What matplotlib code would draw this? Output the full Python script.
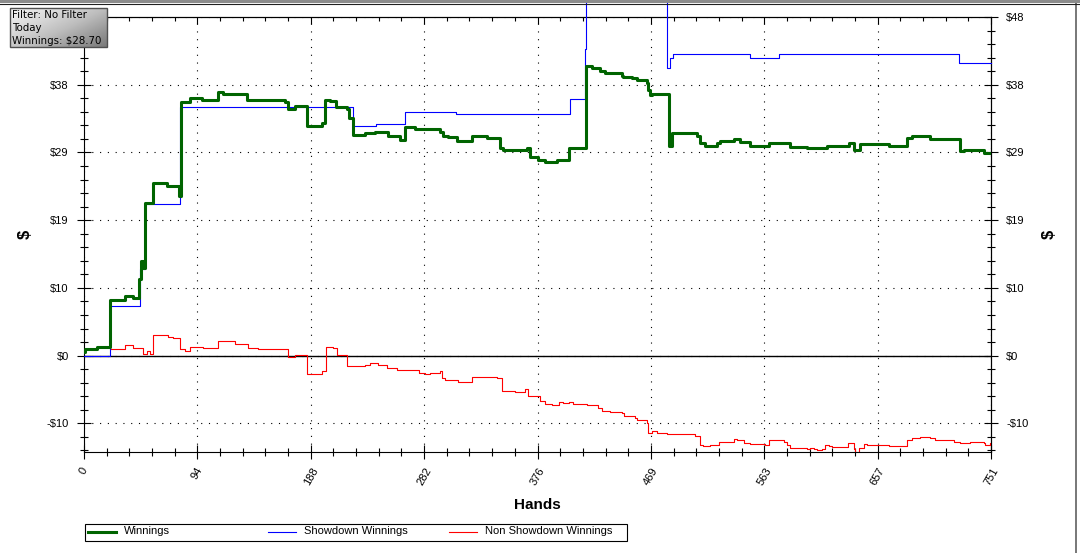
import numpy as np
import matplotlib
matplotlib.use('Agg')
import matplotlib.pyplot as plt
from matplotlib.patches import Rectangle
from matplotlib.lines import Line2D
from matplotlib.ticker import MultipleLocator

plt.rcParams['font.family'] = ['Liberation Sans', 'DejaVu Sans']

# ---------------- data (step series: value holds from hand until next hand) ----------------
win_hands = [0, 1, 10.5, 21.5, 34, 40.9, 45.8, 47.2, 49.1, 50.5, 57.4, 68.5, 79, 80.3, 87.8,
             97.5, 111.3, 115.4, 134.7, 166.5, 169.2, 174.8, 184.4, 196.9, 199.6, 203.8,
             208.7, 217.6, 219.8, 223.1, 232.8, 241.1, 252.1, 261.8, 265.9, 274.2, 295,
             297.6, 301.8, 308.7, 321.1, 333.5, 344.6, 347.3, 358.4, 366.7, 369.4, 376.3,
             381.8, 391.5, 401.2, 415.8, 420.5, 427.4, 431.5, 445.3, 446.7, 453.6, 457.8,
             466.1, 467.4, 468.8, 470.2, 484, 486.8, 507.5, 510.2, 514.4, 524, 526.8,
             537.8, 543.4, 551.6, 566.8, 576.5, 584.8, 598.6, 615.1, 633.1, 637.2, 642.7,
             666.2, 681.3, 685.5, 700.7, 725.5, 728.3, 744.9, 751]
win_vals = [0.5, 0.95, 1.2, 7.9, 8.5, 8.2, 10.8, 13.4, 12.4, 21.7, 24.4, 24.0, 22.6, 36.0,
            36.45, 36.3, 37.3, 37.1, 36.2, 36.0, 35.0, 35.4, 32.5, 33.0, 36.3, 36.1, 35.3,
            34.9, 33.7, 31.3, 31.6, 31.7, 31.2, 30.6, 32.4, 32.1, 31.7, 31.1, 31.0, 30.4,
            31.2, 30.9, 29.5, 29.2, 29.1, 29.4, 28.1, 27.8, 27.4, 27.7, 29.5, 41.0, 40.8,
            40.4, 40.1, 39.7, 39.5, 39.3, 39.0, 38.7, 37.7, 37.0, 37.1, 29.7, 31.6, 31.2,
            30.1, 29.75, 30.1, 30.45, 30.75, 30.35, 29.7, 30.1, 30.2, 29.6, 29.5, 29.7,
            30.2, 29.2, 30.0, 29.7, 30.9, 31.1, 30.7, 29.0, 29.2, 28.7, 28.7]

sd_hands = [0, 21.5, 46.4, 50.5, 79.5, 222.6, 241.9, 265.4, 308.2, 402, 414.5, 415.5,
            483, 485.4, 487.6, 551.6, 575.1, 724.2, 751]
sd_vals = [0.0, 7.1, 12.3, 21.5, 35.3, 32.6, 32.8, 34.6, 34.3, 36.4, 43.5, 55.0,
           40.8, 42.2, 42.7, 42.2, 42.7, 41.5, 41.5]

nsd_hands = [0, 1, 10.5, 21.5, 25, 28.4, 34, 40.9, 49.1, 51.9, 54.7, 57.4, 69.9, 74, 79.5,
             83.7, 87.8, 90.6, 98.9, 111.3, 125.1, 136.1, 144.4, 169.2, 174.8, 184.4,
             196.9, 200.2, 206.5, 209.3, 217.6, 219, 232.8, 236.9, 243.8, 250.7, 259, 270,
             277, 282.4, 286.6, 294.9, 296.3, 299, 310, 321.1, 341.8, 346, 357, 365.3, 368,
             377.7, 381.8, 387.4, 392.9, 397, 401.2, 405.3, 416.3, 426, 428.8, 435.7, 441.2,
             445.4, 446.8, 456.4, 457.8, 466.1, 467.4, 470.2, 474.3, 479.9, 482.6, 501.9,
             506.1, 510.2, 512.4, 518.5, 525.4, 537.8, 540.6, 546.1, 551.6, 564, 566.8,
             579.2, 582, 584.8, 598.6, 601.3, 604.1, 607, 611, 613.7, 616.5, 619.3, 633,
             637.2, 638.6, 641.3, 645.5, 648.2, 666.2, 681.3, 685.5, 692.4, 700.7, 704.8,
             720, 725.5, 733.8, 744.9, 746.2, 750.4, 751]
nsd_vals = [0.5, 0.95, 1.2, 1.0, 0.9, 1.0, 1.52, 1.09, 0.28, 0.61, 0.28, 2.98, 2.6, 2.5,
            1.0, 0.71, 1.2, 1.28, 1.09, 2.03, 1.7, 1.09, 1.0, -0.24, 0.14, -2.6, -2.2, 1.22,
            1.09, 0.14, -1.5, -1.42, -1.28, -1.09, -1.3, -1.69, -2.02, -2.1, -2.4, -2.6,
            -2.4, -2.2, -3.1, -3.4, -3.7, -3.0, -3.2, -5.06, -5.1, -4.73, -5.7, -6.38, -6.8,
            -6.95, -6.56, -6.7, -6.56, -6.85, -7.05, -7.4, -7.9, -8.0, -7.95, -8.2, -8.5,
            -8.8, -9.08, -9.5, -10.9, -10.7, -10.97, -10.9, -11.06, -11.1, -11.44, -12.6,
            -12.86, -12.7, -12.25, -11.8, -12.0, -12.4, -12.5, -12.6, -12.0, -12.3, -12.6,
            -13.1, -13.2, -13.1, -13.3, -13.4, -13.2, -12.6, -12.86, -13.0, -12.4, -13.3,
            -13.6, -13.1, -12.5, -12.7, -12.86, -12.0, -11.7, -11.5, -11.7, -12.0, -12.2,
            -12.4, -12.25, -12.4, -12.7, -12.4, -12.4]

x_tick_labels = ['0', '94', '188', '282', '376', '469', '563', '657', '751']
y_ticks = [-9.6, 0, 9.6, 19.2, 28.8, 38.4, 48.0]
y_tick_labels = [r'-\$10', r'\$0', r'\$10', r'\$19', r'\$29', r'\$38', r'\$48']
series_names = ['Winnings', 'Showdown Winnings', 'Non Showdown Winnings']
series_colors = ['#006400', '#0000ff', '#ff0000']
info_lines = ['Filter: No Filter', 'Today', r'Winnings: \$28.70']

# ---------------- figure ----------------
W, H = 1080, 553
fig = plt.figure(figsize=(W / 100, H / 100), dpi=100, facecolor='white')
ax_l, ax_r, ax_t, ax_b = 84, 991, 17, 452
ax = fig.add_axes([ax_l / W, (H - ax_b) / H, (ax_r - ax_l) / W, (ax_b - ax_t) / H])
ax.set_facecolor('white')

ax.step(nsd_hands, nsd_vals, where='post', color=series_colors[2], lw=0.8, zorder=3)
ax.step(sd_hands, sd_vals, where='post', color=series_colors[1], lw=0.8, zorder=3.5,
        clip_on=False)
ax.step(win_hands, win_vals, where='post', color=series_colors[0], lw=2.2, zorder=4)
ax.axhline(0, color='black', lw=1.0, zorder=2.5)

x_max = 751
ax.set_xlim(0, x_max)
ax.set_ylim(-13.66, 48.0)

x_ticks = np.linspace(0, x_max, len(x_tick_labels))
ax.set_xticks(x_ticks)
ax.set_xticklabels(x_tick_labels, rotation=60, ha='center', va='top')
ax.xaxis.set_minor_locator(MultipleLocator(x_max / 40))
# left side: the top label is hidden behind the info box in the reference
ax.set_yticks(y_ticks)
ax.set_yticklabels(y_tick_labels[:-1] + [''])
ax.yaxis.set_minor_locator(MultipleLocator(1.92))

ax.grid(True, which='major', color='black', linestyle=(0, (1, 6)), linewidth=0.8)
ax.tick_params(axis='both', which='major', direction='inout', length=10, width=0.8,
               color='black', labelsize=8, pad=6)
ax.tick_params(axis='both', which='minor', direction='inout', length=6, width=0.8,
               color='black')
ax.tick_params(axis='x', which='major', pad=5)
for s in ax.spines.values():
    s.set_color('black')
    s.set_linewidth(0.8)

secy = ax.secondary_yaxis('right')
secy.set_yticks(y_ticks)
secy.set_yticklabels(y_tick_labels)
secy.yaxis.set_minor_locator(MultipleLocator(1.92))
secy.tick_params(axis='y', which='major', direction='inout', length=10, width=0.8,
                 labelsize=8, pad=6)
secy.tick_params(axis='y', which='minor', direction='inout', length=6, width=0.8)
secy.spines['right'].set_linewidth(0.8)

sec = ax.secondary_xaxis('top')
sec.set_xticks(x_ticks)
sec.xaxis.set_minor_locator(MultipleLocator(x_max / 40))
sec.tick_params(axis='x', which='major', direction='in', length=5, width=0.8,
                labeltop=False)
sec.tick_params(axis='x', which='minor', direction='in', length=3, width=0.8)
sec.spines['top'].set_linewidth(0.8)

# ---------------- overlay in pixel coordinates ----------------
ov = fig.add_axes([0, 0, 1, 1], zorder=10)
ov.patch.set_alpha(0)
ov.axis('off')

# window frame
ov.add_patch(Rectangle((0, 0), W, 3, facecolor='#8c8c8c', edgecolor='none'))
ov.plot([0, W], [3.5, 3.5], color='#202020', lw=0.8)
ov.add_patch(Rectangle((1074.5, 3), 2.5, H, facecolor='#7a7a7a', edgecolor='none'))

# info box with gradient
gx = np.linspace(0, 1, 120)
gy = np.linspace(0, 1, 50)
GX, GY = np.meshgrid(gx, gy)
grad = 0.55 * GX + 0.45 * GY
ov.imshow(grad, extent=(10, 107, 47, 8), cmap='Greys', vmin=-0.2, vmax=1.8,
          aspect='auto', interpolation='bilinear', zorder=5)
ov.add_patch(Rectangle((10, 8), 97, 39, facecolor='none', edgecolor='#505050', lw=1,
                       zorder=6))
for i, t in enumerate(info_lines):
    ov.text(12.5, 15 + i * 12.8, t, fontsize=7.4, family='DejaVu Sans', color='black',
            va='center', ha='left', zorder=7)

# axis titles
ov.text((ax_l + ax_r) / 2, 505, 'Hands', fontsize=11, fontweight='bold', ha='center',
        va='center')
ov.text(25, 234.5, r'\$', fontsize=12, fontweight='bold', rotation=90, ha='center',
        va='center')
ov.text(1049, 234.5, r'\$', fontsize=12, fontweight='bold', rotation=90, ha='center',
        va='center')

# legend
ov.add_patch(Rectangle((84.5, 523.5), 542, 17, facecolor='white', edgecolor='black',
                       lw=0.8))
leg_x = [88, 268, 449]
leg_w = [2.2, 0.8, 0.8]
for name, col, lx, lw in zip(series_names, series_colors, leg_x, leg_w):
    ov.add_line(Line2D([lx, lx + 28], [531.5, 531.5], color=col, lw=lw))
    ov.text(lx + 36, 531.5, name, fontsize=8, ha='left', va='center')

ov.set_xlim(0, W)
ov.set_ylim(H, 0)

fig.savefig('out.png', dpi=100, facecolor='white')
